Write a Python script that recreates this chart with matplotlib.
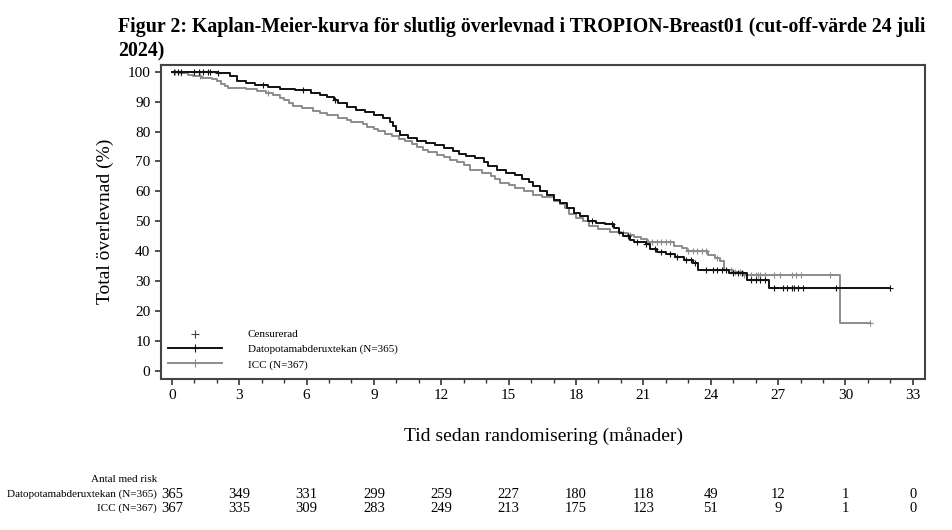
import numpy as np
import matplotlib
matplotlib.use("Agg")
import matplotlib.pyplot as plt
import matplotlib.transforms as mtransforms
from matplotlib.lines import Line2D
from matplotlib.ticker import MultipleLocator

plt.rcParams["font.family"] = ["Liberation Serif", "DejaVu Serif"]

# Datopotamabderuxtekan: step times (months) and survival (%)
dato_time = [0, 2.05, 2.6, 2.9, 3.3, 3.7, 4.3, 4.8, 5.5, 6.2, 6.6, 6.9, 7.2, 7.4,
             7.8, 8.2, 8.6, 9.0, 9.4, 9.7, 9.85, 10.0, 10.15, 10.5, 10.9, 11.3,
             11.7, 12.1, 12.5, 12.8, 13.1, 13.5, 13.9, 14.1, 14.5, 14.9, 15.3,
             15.6, 15.9, 16.1, 16.4, 16.7, 17.0, 17.3, 17.6, 17.9, 18.2, 18.55,
             18.9, 19.3, 19.7, 19.9, 20.1, 20.4, 20.6, 21.1, 21.3, 21.6, 22.0,
             22.4, 22.8, 23.2, 23.45, 24.8, 25.6, 26.6]
dato_surv = [100, 99.5, 98.5, 96.9, 96.2, 95.5, 95.0, 94.3, 93.8, 93.0, 92.2,
             91.6, 90.5, 89.6, 88.3, 87.2, 86.5, 85.4, 84.5, 83.2, 81.8, 80.3,
             79.0, 78.0, 77.0, 76.2, 75.5, 74.6, 73.5, 72.5, 71.8, 71.0, 69.8,
             68.4, 67.0, 66.2, 65.3, 64.0, 63.0, 61.7, 60.2, 58.8, 57.2, 56.0,
             54.5, 52.9, 51.8, 50.2, 49.5, 48.9, 47.6, 46.0, 45.0, 43.8, 43.2,
             42.3, 40.6, 39.8, 39.0, 38.1, 37.1, 36.0, 33.7, 32.6, 30.2, 27.8]
dato_end = 32.0
dato_cens = [0.1, 0.25, 0.4, 1.0, 1.2, 1.4, 1.6, 1.7, 2.05, 4.07, 5.85, 7.26,
             18.7, 19.6, 20.3, 20.7, 21.1, 21.5, 21.8, 22.2, 22.5, 22.9, 23.1,
             23.3, 23.8, 24.1, 24.3, 24.5, 24.7, 25.0, 25.2, 25.4, 25.8, 26.0,
             26.2, 26.4, 26.8, 27.2, 27.4, 27.6, 27.7, 27.9, 28.1, 29.6, 32.0]

# ICC
icc_time = [0, 0.4, 0.7, 0.95, 1.3, 1.8, 2.0, 2.2, 2.35, 2.5, 3.3, 3.8, 4.2, 4.5,
            4.8, 5.0, 5.2, 5.4, 5.8, 6.3, 6.6, 6.9, 7.4, 7.8, 8.0, 8.5, 8.7, 9.0,
            9.2, 9.5, 9.8, 10.1, 10.4, 10.7, 10.9, 11.2, 11.4, 11.8, 12.1, 12.4,
            12.7, 13.0, 13.3, 13.8, 14.2, 14.4, 14.6, 15.0, 15.3, 15.7, 16.1,
            16.5, 17.0, 17.3, 17.5, 17.7, 18.0, 18.3, 18.6, 19.0, 19.5, 20.0,
            20.3, 20.6, 20.9, 21.15, 22.35, 22.7, 22.95, 23.9, 24.2, 24.4, 24.6,
            25.0, 25.45, 29.77]
icc_surv = [100, 99.5, 99.0, 98.5, 98.0, 97.5, 97.0, 96.0, 95.2, 94.6, 94.1,
            93.6, 93.0, 92.4, 91.4, 90.5, 89.5, 88.6, 87.9, 87.0, 86.2, 85.5,
            84.7, 83.8, 83.2, 82.6, 81.7, 80.8, 80.2, 79.2, 78.4, 77.6, 76.8,
            75.8, 75.0, 74.0, 73.3, 72.3, 71.5, 70.6, 69.7, 68.8, 67.3, 66.3,
            65.0, 64.0, 62.8, 62.0, 61.2, 60.0, 58.9, 58.0, 56.8, 55.8, 54.5,
            52.5, 51.0, 50.0, 48.4, 47.3, 46.4, 45.9, 45.4, 44.8, 44.2, 43.2,
            41.6, 41.0, 39.9, 38.8, 37.6, 36.8, 33.7, 33.0, 32.1, 15.9]
icc_end = 31.1
icc_cens = [0.15, 0.25, 0.4, 1.25, 4.3, 19.9, 20.1, 20.4, 21.2, 21.4, 21.6,
            21.8, 22.0, 22.2, 23.0, 23.2, 23.4, 23.6, 23.8, 24.3, 24.9, 25.1,
            25.3, 25.5, 25.8, 26.0, 26.1, 26.2, 26.4, 26.8, 27.1, 27.6, 27.8,
            28.0, 29.3, 31.1]

risk_months = [0, 3, 6, 9, 12, 15, 18, 21, 24, 27, 30, 33]
risk_dato = [365, 349, 331, 299, 259, 227, 180, 118, 49, 12, 1, 0]
risk_icc = [367, 335, 309, 283, 249, 213, 175, 123, 51, 9, 1, 0]

black = "#111111"
gray = "#8c8c8c"

fig = plt.figure(figsize=(9.52, 5.30), dpi=100)
ax = fig.add_axes([0.169, 0.285, 0.803, 0.593])


def km(ax, t, s, end, cens, color):
    t = np.array(t + [end])
    s = np.array(s + [s[-1]])
    ax.step(t, s, where="post", color=color, lw=1.4)
    c = np.array(cens)
    idx = np.searchsorted(t, c, side="right") - 1
    ax.plot(c, s[idx], ls="none", marker="+", ms=5, mew=0.8, color=color)


km(ax, icc_time, icc_surv, icc_end, icc_cens, gray)
km(ax, dato_time, dato_surv, dato_end, dato_cens, black)

ax.set_xlim(-0.49, 33.56)
ax.set_ylim(-2.8, 102.4)
ax.xaxis.set_major_locator(MultipleLocator(3))
ax.xaxis.set_minor_locator(MultipleLocator(1))
ax.yaxis.set_major_locator(MultipleLocator(10))
ax.tick_params(axis="both", which="major", direction="out", length=4, width=1.2,
               labelsize=11, color="#333333")
ax.tick_params(axis="x", which="minor", direction="out", length=3, width=1.0,
               color="#333333")
for sp in ax.spines.values():
    sp.set_linewidth(1.5)
    sp.set_color("#444444")

ax.set_ylabel("Total överlevnad (%)", fontsize=14, labelpad=10)
ax.set_xlabel("Tid sedan randomisering (månader)", fontsize=14, labelpad=18)

handles = [
    Line2D([], [], ls="none", marker="+", ms=6, mew=0.8, color="#444444"),
    Line2D([], [], color=black, lw=1.4, marker="+", ms=6, mew=0.8),
    Line2D([], [], color=gray, lw=1.4, marker="+", ms=6, mew=0.8),
]
labels = ["Censurerad", "Datopotamabderuxtekan (N=365)", "ICC (N=367)"]
ax.legend(handles, labels, loc="lower left", bbox_to_anchor=(0.009, 0.03),
          frameon=False, fontsize=8, handlelength=4.9, handletextpad=2.3,
          labelspacing=0.45, borderpad=0, borderaxespad=0)

fig.text(0.124, 0.968, "Figur 2: Kaplan-Meier-kurva för slutlig överlevnad i "
         "TROPION-Breast01 (cut-off-värde 24 juli\n2024)", fontsize=14.3,
         fontweight="bold", va="top", ha="left", linespacing=1.3)

trans = mtransforms.blended_transform_factory(ax.transData, fig.transFigure)
fig.text(0.165, 1 - 480 / 530, "Antal med risk", fontsize=8, ha="right", va="center")
fig.text(0.165, 1 - 494 / 530, "Datopotamabderuxtekan (N=365)", fontsize=8,
         ha="right", va="center")
fig.text(0.165, 1 - 508 / 530, "ICC (N=367)", fontsize=8, ha="right", va="center")
for m, a, b in zip(risk_months, risk_dato, risk_icc):
    ax.text(m, 1 - 494 / 530, str(a), transform=trans, fontsize=10.5,
            ha="center", va="center")
    ax.text(m, 1 - 508 / 530, str(b), transform=trans, fontsize=10.5,
            ha="center", va="center")

fig.savefig("out.png", dpi=100)
